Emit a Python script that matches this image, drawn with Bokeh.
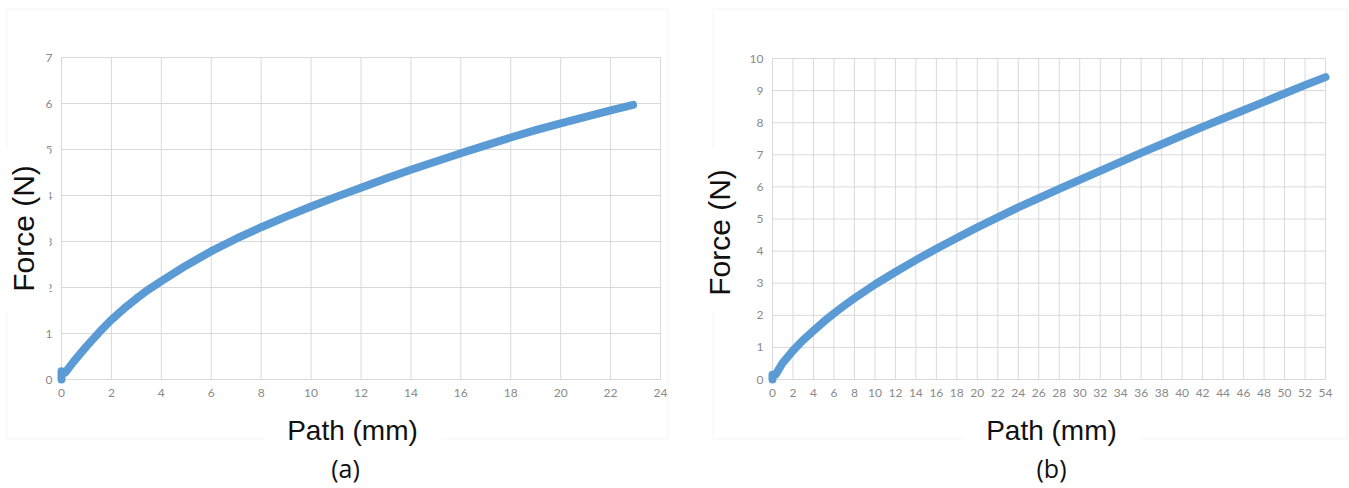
import numpy as np
from bokeh.plotting import figure
from bokeh.layouts import row
from bokeh.models import FixedTicker, Label, BoxAnnotation, Range1d
from bokeh.embed import file_html
from bokeh.resources import INLINE

# Force-path measurement, panel (a)
path_a = [0, 0, 0.15, 0.5, 1, 1.5, 2, 2.5, 3, 3.5, 4, 5, 6, 7, 8, 9, 10, 11, 12,
          13, 14, 15, 16, 17, 18, 19, 20, 21, 22, 22.9]
force_a = [0, 0.18, 0.15, 0.4, 0.72, 1.02, 1.3, 1.54, 1.76, 1.96, 2.14, 2.48, 2.79,
           3.06, 3.31, 3.54, 3.76, 3.97, 4.17, 4.37, 4.56, 4.74, 4.92, 5.09, 5.26,
           5.42, 5.57, 5.71, 5.85, 5.97]

# Force-path measurement, panel (b)
path_b = [0, 0, 0.3, 1, 2, 3, 4, 5, 6, 7, 8, 10, 12, 14, 16, 18, 20, 22, 24, 26,
          28, 30, 32, 34, 36, 38, 40, 42, 44, 46, 48, 50, 52, 54]
force_b = [0, 0.15, 0.15, 0.52, 0.9, 1.23, 1.52, 1.8, 2.06, 2.3, 2.53, 2.96, 3.35,
           3.72, 4.07, 4.41, 4.74, 5.05, 5.36, 5.65, 5.94, 6.22, 6.5, 6.78, 7.06,
           7.33, 7.6, 7.87, 8.13, 8.39, 8.65, 8.91, 9.17, 9.42]

xticks_a = list(range(0, 25, 2))
yticks_a = list(range(0, 8))
xticks_b = list(range(0, 55, 2))
yticks_b = list(range(0, 11))

x_title = "Path (mm)"
y_title = "Force (N)"
tags = ["(a)", "(b)"]

BLUE = "#5b9bd5"
GRID = "#d9d9d9"
TICK = "#8a8a8a"
H = 488


def screen_box(l, t, r, b, **kw):
    # box given in canvas pixels (top-left origin)
    return BoxAnnotation(left=l, right=r, top=H - t, bottom=H - b,
                         left_units="screen", right_units="screen",
                         top_units="screen", bottom_units="screen",
                         editable=False, **kw)


def screen_label(x, y, text, font, size, angle=0.0):
    return Label(x=x, y=H - y, x_units="screen", y_units="screen", text=text,
                 text_font=font, text_font_size=size, text_color="#111111",
                 text_align="center", text_baseline="middle", angle=angle,
                 level="overlay")


def panel(width, data_px, xticks, yticks, xs, ys, outer, xbox, ybox,
          xpos, ypos, tag, tagpos):
    # data_px: pixel positions of the first/last x tick and first/last y tick
    px0, px1, py0, py1 = data_px
    kx = (px1 - px0) / (xticks[-1] - xticks[0])
    ky = (py0 - py1) / (yticks[-1] - yticks[0])
    x_range = Range1d(xticks[0] - px0 / kx, xticks[-1] + (width - px1) / kx)
    y_range = Range1d(yticks[0] - (H - py0) / ky, yticks[-1] + py1 / ky)

    p = figure(width=width, height=H, output_backend="svg", toolbar_location=None,
               x_range=x_range, y_range=y_range,
               min_border=0, min_border_left=0, min_border_right=0,
               min_border_top=0, min_border_bottom=0,
               background_fill_color="white", border_fill_color="white")
    p.outline_line_color = None
    p.grid.visible = False

    for ax in (p.xaxis, p.yaxis):
        ax.fixed_location = 0
        ax.axis_line_color = None
        ax.major_tick_line_color = None
        ax.minor_tick_line_color = None
        ax.major_tick_out = 0
        ax.major_tick_in = 0
        ax.minor_tick_out = 0
        ax.major_label_text_font = "Lato"
        ax.major_label_text_font_size = "12px"
        ax.major_label_text_color = TICK
        ax.major_label_standoff = 9
    p.xaxis.ticker = FixedTicker(ticks=xticks)
    p.yaxis.ticker = FixedTicker(ticks=yticks)
    p.xaxis.bounds = (xticks[0], xticks[-1])
    p.yaxis.bounds = (yticks[0], yticks[-1])

    # outer chart border
    ol, ot, orr, ob = outer
    p.add_layout(screen_box(ol + 0.5, ot + 0.5, orr + 0.5, ob + 0.5, fill_alpha=0,
                            line_color=GRID, line_width=1, level="underlay"))

    # gridlines over the plot area
    p.segment(x0=xticks, x1=xticks, y0=[yticks[0]] * len(xticks),
              y1=[yticks[-1]] * len(xticks), line_color=GRID, line_width=1)
    p.segment(x0=[xticks[0]] * len(yticks), x1=[xticks[-1]] * len(yticks),
              y0=yticks, y1=yticks, line_color=GRID, line_width=1)

    p.line(xs, ys, line_color=BLUE, line_width=8, line_cap="round", line_join="round")

    # white patches behind the axis titles
    for (l, t, r, b) in (xbox, ybox):
        p.add_layout(screen_box(l, t, r, b, fill_color="white", fill_alpha=1,
                                line_color=None, level="overlay"))
    p.add_layout(screen_label(xpos[0], xpos[1], x_title, "Liberation Sans", "28px"))
    p.add_layout(screen_label(ypos[0], ypos[1], y_title, "Liberation Sans", "30px",
                              angle=np.pi / 2))
    p.add_layout(screen_label(tagpos[0], tagpos[1], tag, "Open Sans", "25px"))
    return p


pa = panel(680, (61, 660, 379, 57), xticks_a, yticks_a, path_a, force_a,
           (6, 8, 667, 438), (265, 412, 442, 453), (0, 148, 49, 312),
           (352, 430), (23, 228), tags[0], (345, 467))

pb = panel(669, (92, 645, 379, 58), xticks_b, yticks_b, path_b, force_b,
           (32, 8, 666, 438), (283, 412, 460, 453), (20, 147, 60, 312),
           (371, 430), (39, 232), tags[1], (371, 467))

layout = row(pa, pb, spacing=0)
open("out.html", "w").write(file_html(layout, INLINE))
